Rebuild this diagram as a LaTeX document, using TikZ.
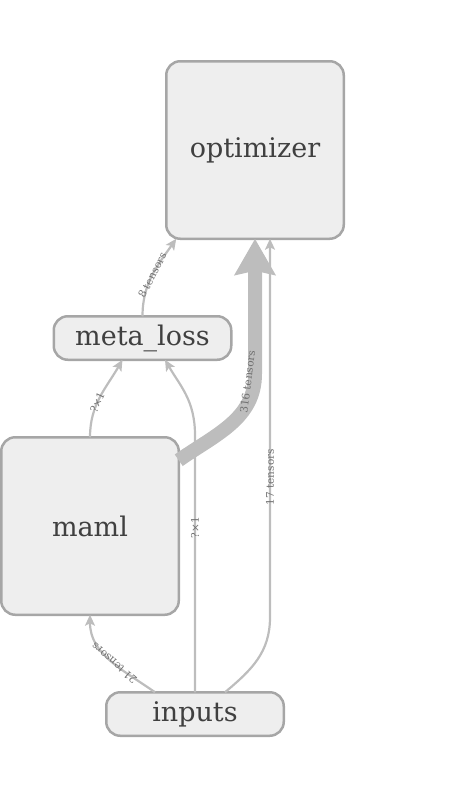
\documentclass[tikz,border=0pt]{standalone}
\usepackage{fontspec}
\setmainfont{DejaVu Serif}
\usetikzlibrary{positioning,arrows.meta}
\definecolor{boxfill}{HTML}{EEEEEE}
\definecolor{boxline}{HTML}{A6A6A6}
\definecolor{boxtext}{HTML}{404040}
\definecolor{flowline}{HTML}{BDBDBD}
\definecolor{flowtext}{HTML}{707070}

\begin{document}
\begin{tikzpicture}[
    node distance=77.5pt,
    op/.style={draw=boxline, fill=boxfill, line width=2.5pt, rounded corners=14pt,
      text=boxtext, font=\fontsize{27}{30}\selectfont, minimum width=177.5pt,
      inner sep=0pt, outer sep=0pt},
    bigop/.style={op, minimum height=177.5pt},
    flatop/.style={op, minimum height=43.5pt},
    flow/.style={draw=flowline, line width=2.2pt, -{Stealth[length=11pt,width=10pt,inset=2.5pt]}},
    fat/.style={draw=flowline, line width=14pt, -{Stealth[length=36pt,width=40pt,inset=4pt]}},
    lab/.style={font=\fontsize{10.5}{12}\selectfont, text=flowtext, sloped, inner sep=1pt}
  ]
  \useasboundingbox (0,0) rectangle (465pt,-798pt);

  \node (optimizer) [bigop] at (255pt,-150pt) {optimizer};
  \node (meta_loss) [flatop, below=of optimizer, xshift=-112.5pt] {meta\_loss};
  \node (maml) [bigop, below=of meta_loss, xshift=-52.5pt] {maml};
  \node (inputs) [flatop, below=of maml, xshift=105pt] {inputs};

  \path
    (meta_loss.north) edge[flow,out=90,in=235] node[lab] {8 tensors} ([xshift=10pt]optimizer.south west)
    (maml.north) edge[flow,out=90,in=240] node[lab,pos=0.42] {?×1} ([xshift=-20pt]meta_loss.south)
    ([xshift=-40pt]inputs.north) edge[flow,out=145,in=-90] node[lab,allow upside down,pos=0.45] {21 tensors} (maml.south);

  % long ones
  \draw[fat] ([yshift=-23pt]maml.north east) to[out=35,in=-90]
    node[lab,pos=0.93,above=-5pt] {316 tensors} ([yshift=-135pt]optimizer.south) -- (optimizer.south);
  \draw[flow] (inputs.north) -- node[lab,pos=0.64] {?×1} ++(0,257pt)
    .. controls +(0,35pt) and +(-60:30pt) .. ([xshift=22.5pt]meta_loss.south);
  \draw[flow] ([xshift=30pt]inputs.north) .. controls +(40:35pt) and +(0,-35pt) .. ++(45pt,75pt)
    -- node[lab,pos=0.37] {17 tensors} ([xshift=15pt]optimizer.south);
\end{tikzpicture}
\end{document}
